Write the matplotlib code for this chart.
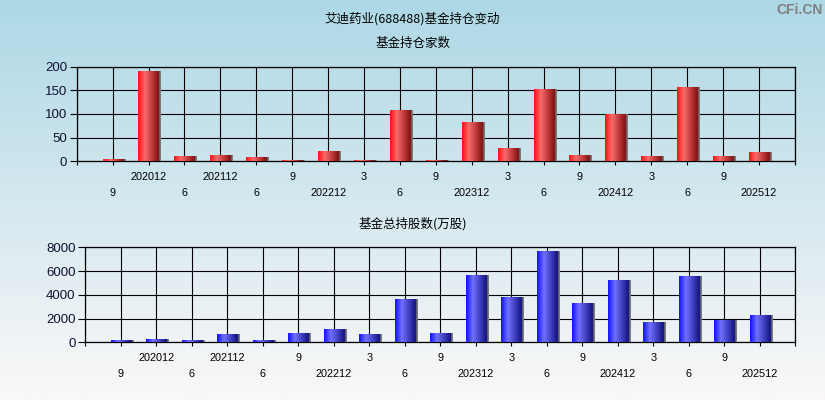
import numpy as np
import matplotlib
matplotlib.use("Agg")
import matplotlib.pyplot as plt
from matplotlib.colors import LinearSegmentedColormap

plt.rcParams['font.family'] = ['Liberation Sans', 'DejaVu Sans']
CJK = ['Noto Sans CJK SC', 'DejaVu Sans']

# 报告期
periods = ['202009', '202012', '202106', '202112', '202206', '202209', '202212',
           '202303', '202306', '202309', '202312', '202403', '202406', '202409',
           '202412', '202503', '202506', '202509', '202512']
# 基金持仓家数
fund_count = [4, 190, 9, 11, 7, 2, 21, 2, 106, 2, 81, 26, 152, 11, 99, 9, 155, 9, 17]
# 基金总持股数(万股)
fund_shares = [100, 200, 100, 600, 100, 700, 1030, 600, 3560, 700, 5590, 3730,
               7600, 3230, 5170, 1630, 5500, 1800, 2220]

def short_label(p):
    # 12月显示年份, 其他只显示月份
    if p.endswith('12'):
        return p
    return str(int(p[4:]))

red_cmap = LinearSegmentedColormap.from_list('r', [
    (0.0, '#ff1010'), (0.3, '#f86a6a'), (0.65, '#b83434'), (0.92, '#7a1010'),
    (0.93, '#707070'), (1.0, '#808080')])
blue_cmap = LinearSegmentedColormap.from_list('b', [
    (0.0, '#1010ff'), (0.3, '#7070ff'), (0.65, '#3a3ab8'), (0.92, '#10107a'),
    (0.93, '#707070'), (1.0, '#808080')])


def draw_panel(ax, values, cmap, ymax, yticks):
    x = np.arange(1, len(values) + 1)
    bars = ax.bar(x + 0.03, values, width=0.62, color='none', zorder=3)
    grad = np.linspace(0, 1, 128).reshape(1, -1)
    for rect in bars:
        x0, h, w = rect.get_x(), rect.get_height(), rect.get_width()
        ax.imshow(grad, cmap=cmap, extent=[x0, x0 + w, 0, h], aspect='auto',
                  interpolation='bilinear', zorder=3)
    ax.set_xlim(0, len(values) + 1)
    ax.set_ylim(0, ymax)
    ax.set_yticks(yticks)
    ax.set_facecolor('none')

    upper = [i for i in range(len(values)) if i % 2 == 1]
    lower = [i for i in range(len(values)) if i % 2 == 0]
    ax.set_xticks([0] + [i + 1 for i in upper] + [len(values) + 1],
                  [''] + [short_label(periods[i]) for i in upper] + [''])
    ax.set_xticks([i + 1 for i in lower], [short_label(periods[i]) for i in lower], minor=True)
    ax.tick_params(axis='x', which='major', length=3, width=0.8, pad=4.5,
                   labelsize=7.8, colors='black')
    ax.tick_params(axis='x', which='minor', length=3, width=0.8, pad=16,
                   labelsize=7.8, colors='black')
    ax.tick_params(axis='y', length=5, width=0.8, pad=2, labelsize=9.5,
                   labelcolor='#101030')
    ax.grid(True, which='both', color='black', linewidth=0.8, zorder=1)
    ax.set_axisbelow(True)
    for s in ax.spines.values():
        s.set_color('black')
        s.set_linewidth(0.9)


fig = plt.figure(figsize=(8.25, 4.0), dpi=100)

# 背景渐变
bg = fig.add_axes([0, 0, 1, 1], zorder=-10)
top = np.array([173, 216, 230]) / 255
bot = np.array([251, 248, 248]) / 255
t = np.linspace(0, 1, 256).reshape(-1, 1, 1)
bg.imshow(top * (1 - t) + bot * t, extent=[0, 1, 0, 1], aspect='auto')
bg.axis('off')

ax1 = fig.add_axes([0.093, 0.5968, 0.8706, 0.2365])
draw_panel(ax1, fund_count, red_cmap, 200, [0, 50, 100, 150, 200])

ax2 = fig.add_axes([0.1034, 0.1443, 0.8606, 0.2375])
draw_panel(ax2, fund_shares, blue_cmap, 8000, [0, 2000, 4000, 6000, 8000])

fig.text(0.5, 1 - 18.5 / 400, '艾迪药业(688488)基金持仓变动', family=CJK, fontsize=9,
         ha='center', va='center')
fig.text(0.5, 1 - 43.3 / 400, '基金持仓家数', family=CJK, fontsize=9,
         ha='center', va='center')
fig.text(0.5, 1 - 224 / 400, '基金总持股数(万股)', family=CJK, fontsize=9,
         ha='center', va='center')
fig.text(0.997, 1 - 10 / 400, 'CFi.CN', fontsize=10, color='#808080',
         fontweight='bold', ha='right', va='center')

fig.savefig('out.png', dpi=100)
plt.close()
